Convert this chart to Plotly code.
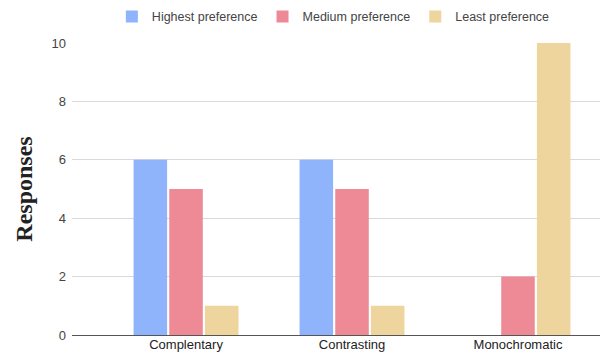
import plotly.graph_objects as go

categories = ["Complentary", "Contrasting", "Monochromatic"]
highest = [6, 6, 0]
medium = [5, 5, 2]
least = [1, 1, 10]

series = [
    ("Highest preference", highest, "#8fb4fb"),
    ("Medium preference", medium, "#ee8a96"),
    ("Least preference", least, "#eed59d"),
]

fig = go.Figure()
for name, vals, color in series:
    fig.add_trace(go.Bar(
        x=categories, y=vals, name=name,
        marker=dict(color=color, line=dict(width=0)),
    ))

fig.update_layout(
    width=602, height=358,
    margin=dict(l=72, r=2, t=43, b=23),
    paper_bgcolor="white", plot_bgcolor="white",
    barmode="group", bargap=0.355, bargroupgap=0.06,
    font=dict(family="Arial, Liberation Sans, sans-serif", size=13, color="#444444"),
    legend=dict(
        orientation="h", x=0.495, xanchor="center", y=0.995, yanchor="top",
        yref="container", font=dict(size=12.5, color="#444444"),
        itemwidth=30, traceorder="normal",
    ),
    xaxis=dict(
        range=[-0.687, 2.494], showgrid=False, ticks="",
        tickfont=dict(size=13, color="#222222"), showline=False,
    ),
    yaxis=dict(
        range=[0, 10], dtick=2, showgrid=True, gridcolor="#d9d9d9", gridwidth=1,
        zeroline=True, zerolinecolor="#555555", zerolinewidth=1,
        tickfont=dict(size=13, color="#444444"), ticks="", ticklabelstandoff=5,
        title=dict(text="<b>Responses</b>",
                   font=dict(family="Liberation Serif, Times New Roman, serif", size=24, color="#222222"),
                   standoff=12),
    ),
)

fig.write_html("out.html")
